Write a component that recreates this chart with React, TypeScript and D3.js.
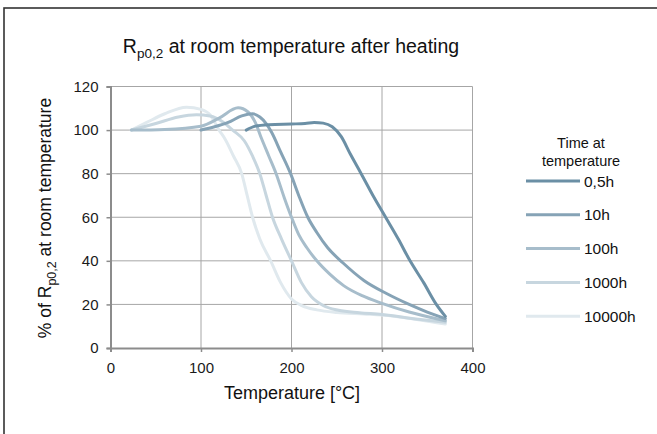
import * as d3 from 'd3';
import { useEffect, useRef } from 'react';

// values (temperature °C, % of Rp0,2)
const seriesNames = ['0,5h', '10h', '100h', '1000h', '10000h'];
const seriesColors = ['#6b8fa5', '#86a3b6', '#a7bdcb', '#c7d6df', '#e0e9ee'];

const temp05h = [150, 160, 175, 200, 215, 225, 235, 245, 255, 265, 277, 290, 304, 318, 331, 346, 360, 370];
const val05h = [100, 101.8, 102.5, 102.8, 103, 103.5, 103.2, 101.5, 97, 89, 80, 70, 60, 50, 40, 30, 20, 14.5];

const temp10h = [100, 115, 130, 145, 157, 165, 172, 178, 188, 199, 208, 218, 228, 240, 257, 280, 305, 330, 350, 370];
const val10h = [100, 101.5, 103.5, 106.5, 107.5, 106, 103, 99, 90, 80, 70, 60, 53, 46, 39, 31, 25, 20, 16.5, 13.5];

const temp100h = [23, 60, 100, 120, 141, 152, 160, 167, 175, 183, 192, 200, 208, 217, 228, 242, 258, 278, 300, 330, 370];
const val100h = [100, 100.3, 101.8, 105.5, 110.2, 108.3, 103.5, 96, 88, 80, 69, 60, 52, 46, 40, 34, 28.5, 24, 20.5, 16.5, 12.5];

const temp1000h = [23, 50, 75, 95, 110, 125, 135, 148, 157, 165, 172, 179, 189, 200, 211, 222, 235, 252, 275, 300, 340, 370];
const val1000h = [100, 103, 106, 107, 106.5, 103.5, 100, 95, 88, 80, 70, 60, 50, 40, 30, 23.5, 19.5, 17.3, 16.2, 15.4, 13.2, 11.8];

const temp10000h = [23, 40, 60, 84, 100, 110, 120, 127, 136, 145, 151, 157, 165, 177, 188, 200, 212, 228, 250, 280, 300, 340, 370];
const val10000h = [100, 103.5, 107.5, 110.5, 109.5, 107, 100, 95.6, 88, 80, 70, 60, 50, 40, 30, 22.5, 19.3, 17.5, 16.3, 15.6, 15.1, 13, 11];

const allTemps = [temp05h, temp10h, temp100h, temp1000h, temp10000h];
const allVals = [val05h, val10h, val100h, val1000h, val10000h];

const xTicks = [0, 100, 200, 300, 400];
const yTicks = [0, 20, 40, 60, 80, 100, 120];

const FONT = '"Liberation Sans", Arial, sans-serif';

export default function App() {
  const ref = useRef<SVGSVGElement>(null);

  useEffect(() => {
    const svg = d3.select(ref.current);
    svg.selectAll('*').remove();

    const x = d3.scaleLinear().domain([0, 400]).range([110.5, 472.5]);
    const y = d3.scaleLinear().domain([0, 120]).range([348, 86.5]);

    svg.append('rect').attr('width', 657).attr('height', 434).attr('fill', '#fff');
    svg.append('rect')
      .attr('x', 4).attr('y', 8).attr('width', 720).attr('height', 520)
      .attr('fill', 'none').attr('stroke', '#333').attr('stroke-width', 1.6);

    // grid
    const grid = svg.append('g');
    grid.selectAll('.hg')
      .data(yTicks.slice(1))
      .enter()
      .append('line')
      .attr('x1', x(0)).attr('x2', x(400))
      .attr('y1', (d) => y(d)).attr('y2', (d) => y(d))
      .attr('stroke', '#a6a6a6').attr('stroke-width', 1);
    grid.selectAll('.vg')
      .data(xTicks.slice(1))
      .enter()
      .append('line')
      .attr('x1', (d) => x(d)).attr('x2', (d) => x(d))
      .attr('y1', y(0)).attr('y2', y(120))
      .attr('stroke', '#a6a6a6').attr('stroke-width', 1);

    // axes
    const xAxis = svg.append('g')
      .attr('transform', 'translate(0,' + y(0) + ')')
      .call(d3.axisBottom(x).tickValues(xTicks).tickSize(4).tickPadding(10).tickFormat((d: any) => String(d)));
    const yAxis = svg.append('g')
      .attr('transform', 'translate(' + x(0) + ',0)')
      .call(d3.axisLeft(y).tickValues(yTicks).tickSize(4).tickPadding(8).tickFormat((d: any) => String(d)));
    [xAxis, yAxis].forEach((a) => {
      a.select('.domain').attr('stroke', '#8c8c8c').attr('stroke-width', 2);
      a.selectAll('.tick line').attr('stroke', '#8c8c8c').attr('stroke-width', 1.5);
      a.selectAll('.tick text')
        .attr('fill', '#1a1a1a')
        .style('font-family', FONT)
        .style('font-size', '15px');
    });

    // curves
    const line = d3.line<[number, number]>()
      .x((d) => x(d[0]))
      .y((d) => y(d[1]))
      .curve(d3.curveMonotoneX);
    const order = [4, 3, 2, 1, 0];
    order.forEach((i) => {
      const pts = allTemps[i].map((t, j) => [t, allVals[i][j]] as [number, number]);
      svg.append('path')
        .attr('d', line(pts) as string)
        .attr('fill', 'none')
        .attr('stroke', seriesColors[i])
        .attr('stroke-width', 3)
        .attr('stroke-linecap', 'round');
    });

    // title
    const title = svg.append('text')
      .attr('x', 291).attr('y', 53)
      .attr('text-anchor', 'middle')
      .style('font-family', FONT)
      .style('font-size', '19.5px')
      .attr('fill', '#111');
    title.append('tspan').text('R');
    title.append('tspan').attr('dy', 5).style('font-size', '13.5px').text('p0,2');
    title.append('tspan').attr('dy', -5).text(' at room temperature after heating');

    // axis titles
    svg.append('text')
      .attr('x', 292).attr('y', 399)
      .attr('text-anchor', 'middle')
      .style('font-family', FONT)
      .style('font-size', '18px')
      .attr('fill', '#111')
      .text('Temperature [°C]');

    const yt = svg.append('text')
      .attr('transform', 'translate(51,218) rotate(-90)')
      .attr('text-anchor', 'middle')
      .style('font-family', FONT)
      .style('font-size', '17.5px')
      .attr('fill', '#111');
    yt.append('tspan').text('% of R');
    yt.append('tspan').attr('dy', 4.5).style('font-size', '12.5px').text('p0,2');
    yt.append('tspan').attr('dy', -4.5).text(' at room temperature');

    // legend
    const lt = svg.append('g')
      .style('font-family', FONT)
      .style('font-size', '14.5px')
      .attr('fill', '#111');
    lt.append('text').attr('x', 581).attr('y', 148).attr('text-anchor', 'middle').text('Time at');
    lt.append('text').attr('x', 581).attr('y', 166).attr('text-anchor', 'middle').text('temperature');

    const legendG = svg.selectAll('.legend')
      .data(seriesNames)
      .enter()
      .append('g')
      .attr('transform', (d, i) => 'translate(526,' + (181 + i * 33.8) + ')');
    legendG.append('line')
      .attr('x1', 0).attr('x2', 54)
      .attr('stroke', (d, i) => seriesColors[i])
      .attr('stroke-width', 3);
    legendG.append('text')
      .attr('x', 58).attr('y', 5.5)
      .style('font-family', FONT)
      .style('font-size', '15.5px')
      .attr('fill', '#111')
      .text((d) => d);
  }, []);

  return (
    <svg
      ref={ref}
      width={657}
      height={434}
      style={{ position: 'absolute', left: 0, top: 0, background: '#fff' }}
    />
  );
}
